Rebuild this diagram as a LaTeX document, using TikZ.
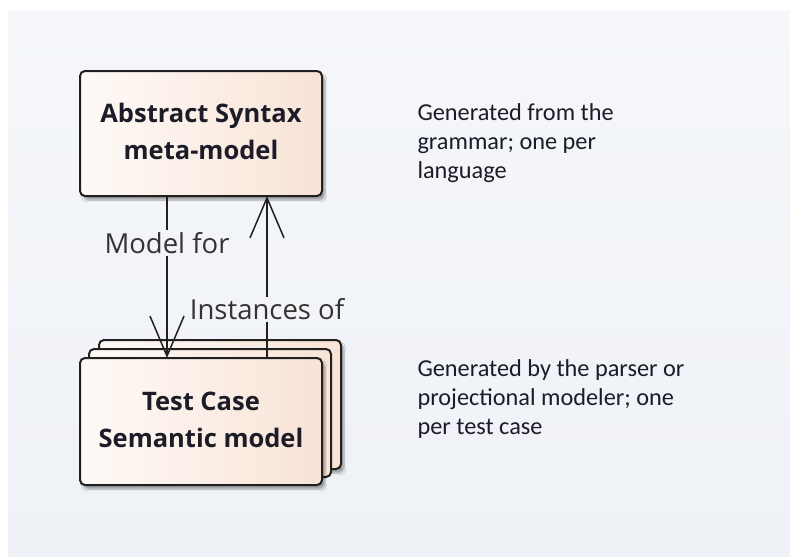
\documentclass[tikz,border=0pt]{standalone}
\usepackage{fontspec}
\setmainfont{Carlito}
\newfontfamily\labelfont{Open Sans}
\usetikzlibrary{arrows.meta,shadows.blur}
\definecolor{bgtop}{HTML}{F5F7FA}
\definecolor{bgbot}{HTML}{EEF1F6}
\definecolor{boxleft}{HTML}{FEFAF7}
\definecolor{boxright}{HTML}{F8E3D6}
\definecolor{ink}{HTML}{1C1C28}
\definecolor{edge}{HTML}{202020}
\tikzset{
  x=1pt, y=-1pt,
  model/.style={draw=edge, line width=2pt, rounded corners=5pt,
    left color=boxleft, right color=boxright,
    blur shadow={shadow xshift=3pt, shadow yshift=-4pt, shadow blur steps=6, shadow opacity=35}},
  modelbare/.style={draw=edge, line width=2pt, rounded corners=5pt,
    left color=boxleft, right color=boxright},
  title/.style={font=\labelfont\fontsize{25.5}{37}\selectfont\bfseries, text=ink, align=center},
  note/.style={font=\fontsize{24.3}{29}\selectfont, text=ink, align=left, anchor=north west},
  rel/.style={draw=edge, line width=1.5pt},
  reltip/.style={-{Straight Barb[length=40pt, width=34pt, line width=1.5pt]}},
  rellabel/.style={font=\labelfont\fontsize{27.5}{30}\selectfont, text=black!80, fill=bgtop!50!bgbot, inner sep=2pt}
}
\begin{document}
\begin{tikzpicture}
  % canvas and soft background panel
  \useasboundingbox (0,0) rectangle (790,557);
  \fill[white] (0,0) rectangle (790,557);
  \shade[top color=bgtop, bottom color=bgbot] (8,10) rectangle (790,557);

  % meta-model box
  \path[model] (80,71) rectangle (322,196);
  \node[title] (meta) at (201,131) {Abstract Syntax\\meta-model};
  \coordinate (metaL) at (167,196);
  \coordinate (metaR) at (267,196);

  % stacked test case boxes (back to front)
  \path[model] (99,340) rectangle (341,469);
  \path[modelbare] (89,349) rectangle (331,477);
  \path[model] (80,358) rectangle (322,485);
  \node[title] (sem) at (201,420) {Test Case\\Semantic model};
  \coordinate (semL) at (167,358);
  \coordinate (semR) at (267,358);

  % relations
  \draw[rel, reltip] (metaL) -- node[rellabel, pos=0.29] (mfor) {Model for} (semL);
  \draw[rel, reltip] (semR) -- node[rellabel, pos=0.30] (inst) {Instances of} (metaR);

  % side notes
  \node[note] (n1) at (414,100) {Generated from the\\grammar; one per\\language};
  \node[note] (n2) at (414,356) {Generated by the parser or\\projectional modeler; one\\per test case};
\end{tikzpicture}
\end{document}
